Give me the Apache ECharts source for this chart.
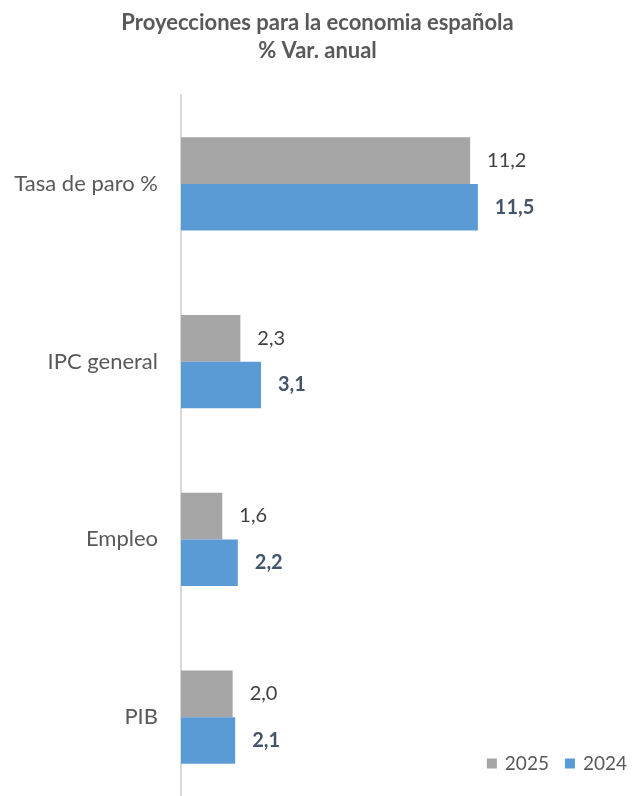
<!DOCTYPE html>
<html>
<head>
<meta charset="utf-8">
<script src="https://cdn.jsdelivr.net/npm/echarts@6/dist/echarts.min.js"></script>
<style>
html,body{margin:0;padding:0;background:#fff;}
#chart{width:635px;height:796px;}
</style>
</head>
<body>
<div id="chart"></div>
<script>
const categories = ["Tasa de paro %", "IPC general", "Empleo", "PIB"];
const values2025 = [11.2, 2.3, 1.6, 2.0];
const values2024 = [11.5, 3.1, 2.2, 2.1];
const seriesNames = ["2025", "2024"];

const FONT = "Lato";
const fmt = p => p.value.toFixed(1).replace('.', ',');

const chart = echarts.init(document.getElementById('chart'));
chart.setOption({
  animation: false,
  backgroundColor: '#ffffff',
  title: {
    text: 'Proyecciones para la economia española\n% Var. anual',
    left: 'center',
    top: 4,
    textStyle: {fontFamily: FONT, fontSize: 22, fontWeight: 'bold', color: '#595959', lineHeight: 28}
  },
  legend: {
    data: seriesNames,
    right: 3,
    top: 749,
    itemWidth: 10,
    itemHeight: 10,
    itemGap: 16,
    icon: 'rect',
    textStyle: {fontFamily: FONT, fontSize: 19, color: '#595959', padding: [0, 0, 0, 3]}
  },
  grid: {left: 181, width: 413, top: 95, height: 711, containLabel: false, outerBoundsMode: 'none'},
  xAxis: {
    type: 'value', min: 0, max: 16, show: false
  },
  yAxis: {
    type: 'category',
    data: categories,
    inverse: true,
    axisLine: {show: true, lineStyle: {color: '#d9d9d9', width: 2}},
    axisTick: {show: false},
    axisLabel: {fontFamily: FONT, fontSize: 22, color: '#595959', margin: 23}
  },
  series: [
    {
      name: seriesNames[0], type: 'bar', data: values2025,
      barGap: '0%', barCategoryGap: '47.5%',
      itemStyle: {color: '#a5a5a5'},
      label: {show: true, position: 'right', distance: 17, formatter: fmt,
        fontFamily: FONT, fontSize: 20, color: '#404040', padding: [2, 0, 0, 0]}
    },
    {
      name: seriesNames[1], type: 'bar', data: values2024,
      barGap: '0%', barCategoryGap: '47.5%',
      itemStyle: {color: '#5b9bd5'},
      label: {show: true, position: 'right', distance: 17, formatter: fmt,
        fontFamily: FONT, fontSize: 20, fontWeight: 'bold', color: '#44546a', padding: [2, 0, 0, 0]}
    }
  ]
});
</script>
</body>
</html>
